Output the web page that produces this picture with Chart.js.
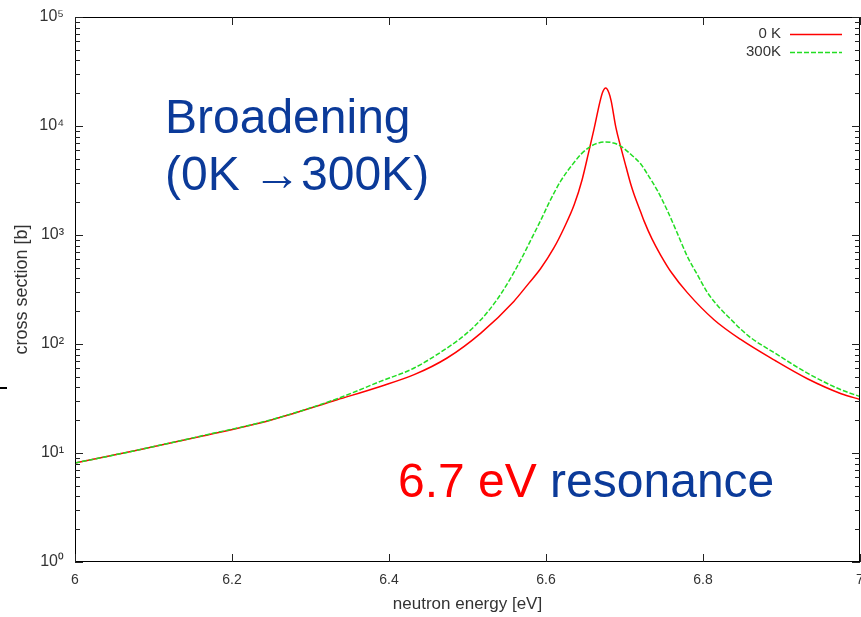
<!DOCTYPE html>
<html><head><meta charset="utf-8">
<script src="https://cdn.jsdelivr.net/npm/chart.js@4.4.1/dist/chart.umd.min.js"></script>
<style>
html,body{margin:0;padding:0;background:#fff;}
#wrap{position:relative;width:861px;height:617px;overflow:hidden;background:#fff;}
canvas{display:block;}
.ann{position:absolute;font-family:'Liberation Sans',Arial,sans-serif;font-size:48px;line-height:57px;color:#0b3a99;white-space:nowrap;}
</style></head><body>
<div id="wrap">
<canvas id="c" width="861" height="617"></canvas>
<div class="ann" style="left:165px;top:88px;">Broadening<br>(0K →300K)</div>
<div class="ann" style="left:398px;top:452px;"><span style="color:#ff0000">6.7 eV</span> resonance</div>
<div style="position:absolute;left:0;top:387px;width:7px;height:2px;background:#000"></div>
</div>
<script>
// ---- data ----
const energy0K = [6.0, 6.079, 6.164, 6.249, 6.334, 6.389, 6.432, 6.474, 6.517, 6.559, 6.578, 6.593, 6.610, 6.623, 6.636, 6.646, 6.654, 6.661, 6.669, 6.672, 6.676, 6.680, 6.683, 6.689, 6.695, 6.702, 6.708, 6.712, 6.721, 6.725, 6.735, 6.746, 6.760, 6.780, 6.814, 6.848, 6.891, 6.933, 6.976, 7.0];
const sigma0K  = [8.1, 10.6, 14.4, 20.0, 30.8, 40.8, 52.3, 74.4, 126, 246, 360, 490, 760, 1160, 1900, 3215, 5600, 9250, 17000, 20300, 22300, 20300, 17000, 9700, 6500, 4200, 2920, 2380, 1600, 1340, 920, 655, 450, 296, 167, 110, 71, 48, 35, 31];
const energy300K = [6.0, 6.079, 6.164, 6.249, 6.334, 6.389, 6.432, 6.474, 6.496, 6.517, 6.536, 6.552, 6.568, 6.580, 6.593, 6.605, 6.619, 6.636, 6.645, 6.655, 6.665, 6.676, 6.686, 6.695, 6.708, 6.721, 6.731, 6.742, 6.755, 6.767, 6.780, 6.793, 6.806, 6.821, 6.836, 6.848, 6.861, 6.891, 6.933, 6.976, 7.0];
const sigma300K  = [8.1, 10.6, 14.5, 20.1, 31.5, 45.4, 60.2, 92, 120, 167, 246, 370, 593, 880, 1350, 2050, 3150, 4650, 5550, 6380, 6920, 7130, 6980, 6550, 5500, 4450, 3450, 2550, 1650, 1050, 637, 430, 294, 215, 167, 137, 114, 83, 54, 38, 33];
const seriesLabels = ['0 K', '300K'];
const xTicks = [6, 6.2, 6.4, 6.6, 6.8, 7];
const xTickLabels = ['6', '6.2', '6.4', '6.6', '6.8', '7'];
const yTicks = [1, 10, 100, 1000, 10000, 100000];
const yTickLabels = ['10\u2070', '10\u00b9', '10\u00b2', '10\u00b3', '10\u2074', '10\u2075'];

const FONT = "'Liberation Sans', Arial, sans-serif";
const TXT = '#333';

function idxOf(arr, v) {
  for (let i = 0; i < arr.length; i++) if (Math.abs(arr[i] - v) < 1e-6 * Math.max(1, Math.abs(v))) return i;
  return -1;
}

const framePlugin = {
  id: 'frame',
  afterDraw(chart) {
    const {ctx, chartArea: {left, right, top, bottom}, scales: {x, y}} = chart;
    ctx.save();
    ctx.strokeStyle = '#000';
    ctx.lineWidth = 1;
    ctx.strokeRect(left + 0.5, top + 0.5, right - left - 1, bottom - top - 1);
    ctx.strokeStyle = '#222';
    const ln = (x1, y1, x2, y2) => { ctx.beginPath(); ctx.moveTo(x1, y1); ctx.lineTo(x2, y2); ctx.stroke(); };
    xTicks.forEach(v => {
      const px = Math.round(x.getPixelForValue(v)) + 0.5;
      ln(px, bottom, px, bottom - 8);
      ln(px, top, px, top + 8);
    });
    for (let d = 0; d <= 5; d++) {
      for (let m = 1; m <= 9; m++) {
        if (d === 5 && m > 1) break;
        const v = m * Math.pow(10, d);
        const py = Math.round(y.getPixelForValue(v)) + 0.5;
        const len = m === 1 ? 8 : 5;
        ln(left, py, left + len, py);
        ln(right, py, right - len, py);
      }
    }
    // legend
    ctx.font = '15px ' + FONT;
    ctx.fillStyle = TXT;
    ctx.textAlign = 'right';
    ctx.textBaseline = 'middle';
    chart.data.datasets.forEach((ds, i) => {
      const yy = 34 + i * 18;
      ctx.fillText(ds.label, 781, yy);
      ctx.strokeStyle = ds.borderColor;
      ctx.lineWidth = 1.5;
      ctx.setLineDash(ds.borderDash || []);
      ln(790, yy + 0.5, 842, yy + 0.5);
      ctx.setLineDash([]);
    });
    ctx.restore();
  }
};

new Chart(document.getElementById('c'), {
  type: 'line',
  data: {
    datasets: [
      {label: seriesLabels[0], data: energy0K.map((e, i) => ({x: e, y: sigma0K[i]})),
       borderColor: '#ff0000', borderWidth: 1.5, pointRadius: 0, fill: false,
       cubicInterpolationMode: 'monotone', order: 1},
      {label: seriesLabels[1], data: energy300K.map((e, i) => ({x: e, y: sigma300K[i]})),
       borderColor: '#22dd22', borderWidth: 1.5, borderDash: [5, 2], pointRadius: 0, fill: false,
       cubicInterpolationMode: 'monotone', order: 0}
    ]
  },
  options: {
    responsive: false, animation: false, devicePixelRatio: 1,
    layout: {padding: {top: 17, right: 1, left: 0, bottom: 0}},
    plugins: {legend: {display: false}, tooltip: {enabled: false}},
    scales: {
      x: {
        type: 'linear', min: 6, max: 7,
        afterBuildTicks: s => { s.ticks = xTicks.map(v => ({value: v})); },
        afterFit: s => { s.height = 55; s.paddingLeft = 0; s.paddingRight = 0; },
        ticks: {autoSkip: false, maxRotation: 0, padding: 10, color: TXT, font: {family: FONT, size: 14},
                callback: v => xTickLabels[idxOf(xTicks, v)]},
        grid: {display: false, drawTicks: false},
        border: {display: false},
        title: {display: true, text: 'neutron energy [eV]', color: TXT, font: {family: FONT, size: 17},
                padding: {top: 0, bottom: 2}}
      },
      y: {
        type: 'logarithmic', min: 1, max: 100000,
        afterBuildTicks: s => { s.ticks = yTicks.map(v => ({value: v, major: true})); },
        afterFit: s => { s.width = 75; s.paddingTop = 0; s.paddingBottom = 0; },
        ticks: {autoSkip: false, padding: 11, color: TXT, font: {family: FONT, size: 16},
                callback: v => yTickLabels[idxOf(yTicks, v)]},
        grid: {display: false, drawTicks: false},
        border: {display: false},
        title: {display: true, text: 'cross section [b]', color: TXT, font: {family: FONT, size: 18},
                padding: {top: 11, bottom: 0}}
      }
    }
  },
  plugins: [framePlugin]
});
</script>
</body></html>
